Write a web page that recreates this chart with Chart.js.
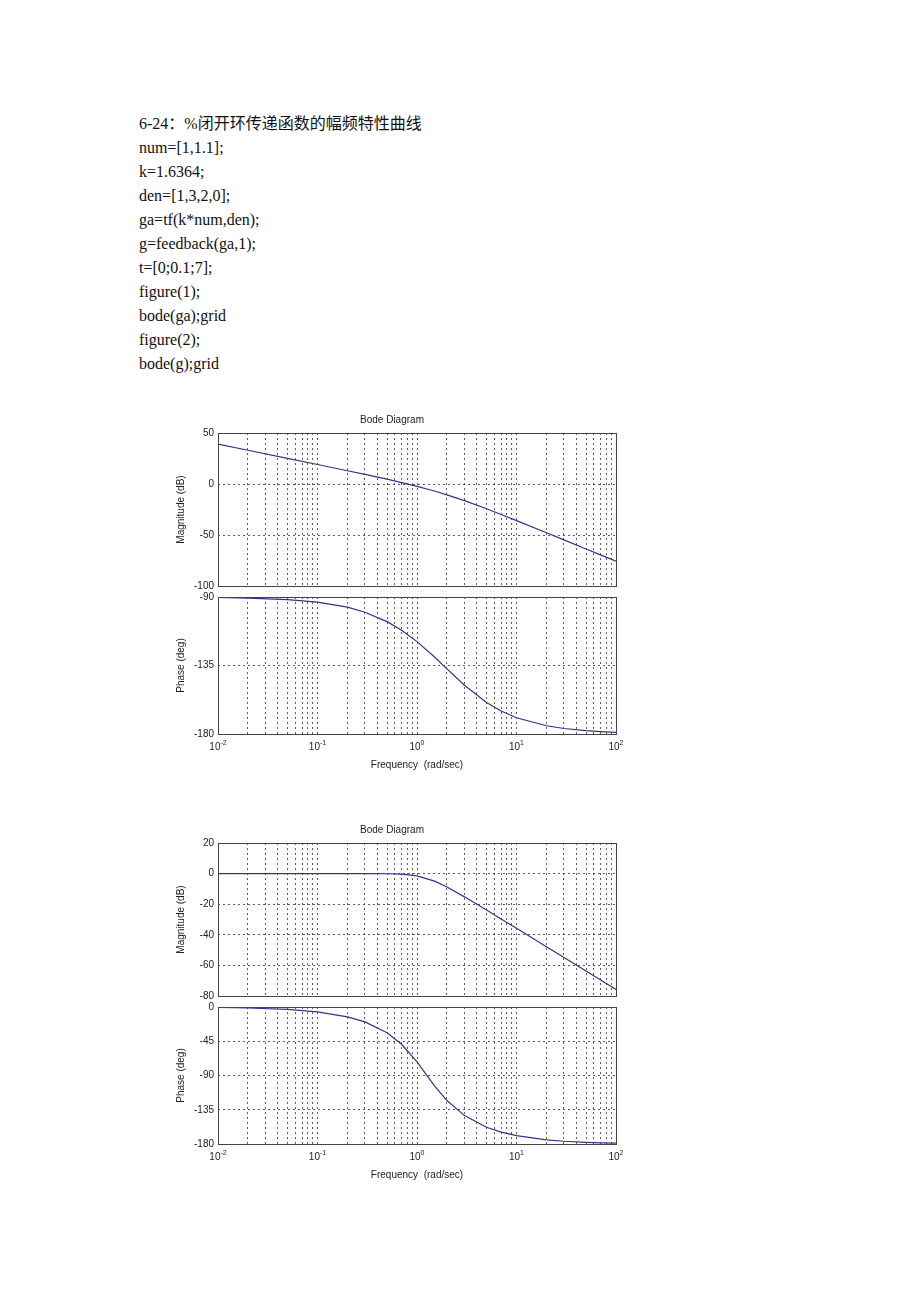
<!DOCTYPE html>
<html lang="zh">
<head>
    <meta charset="UTF-8">
    <title>Bode Diagram</title>
    <script src="https://cdn.jsdelivr.net/npm/chart.js"></script>
    <style>
        body {
            margin: 0;
            background: #fff;
        }
        #page {
            position: relative;
            width: 920px;
            height: 1302px;
            overflow: hidden;
        }
        #code {
            position: absolute;
            left: 139px;
            top: 112px;
            font-family: "Liberation Serif", "Times New Roman", "Noto Sans CJK SC", serif;
            font-size: 16px;
            line-height: 24px;
            color: #111;
            white-space: pre;
        }
        .plot {
            position: absolute;
        }
    </style>
</head>
<body>
<div id="page">
    <div id="code">6-24：%闭开环传递函数的幅频特性曲线
num=[1,1.1];
k=1.6364;
den=[1,3,2,0];
ga=tf(k*num,den);
g=feedback(ga,1);
t=[0;0.1;7];
figure(1);
bode(ga);grid
figure(2);
bode(g);grid</div>

    <div class="plot" style="left:168px; top:410px; width:470px; height:186px;"><canvas id="mag1"></canvas></div>
    <div class="plot" style="left:168px; top:585px; width:470px; height:190px;"><canvas id="phase1"></canvas></div>
    <div class="plot" style="left:168px; top:820px; width:470px; height:186px;"><canvas id="mag2"></canvas></div>
    <div class="plot" style="left:168px; top:995px; width:470px; height:190px;"><canvas id="phase2"></canvas></div>
</div>

<script>
    const freq = [0.01, 0.02, 0.05, 0.1, 0.2, 0.3, 0.5, 0.7, 1, 1.5, 2, 3, 5, 7, 10, 20, 30, 50, 70, 100];

    // figure(1): open loop ga
    const magOpen = [39.1, 33.1, 25.1, 19.1, 13.0, 9.4, 4.7, 1.4, -2.3, -6.9, -10.6, -16.3, -24.3, -29.9, -35.9, -47.8, -54.8, -63.7, -69.5, -75.7];
    const phaseOpen = [-90.3, -90.7, -91.7, -93.4, -96.7, -100.0, -106.2, -111.8, -119.3, -129.4, -137.2, -148.0, -159.3, -164.9, -169.3, -174.6, -176.4, -177.8, -178.4, -178.9];

    // figure(2): closed loop g
    const magClosed = [0, 0, 0, 0, 0, 0, -0.1, -0.4, -1.5, -4.9, -8.8, -15.2, -23.8, -29.6, -35.7, -47.8, -54.8, -63.7, -69.5, -75.7];
    const phaseClosed = [-0.6, -1.3, -3.2, -6.4, -12.9, -19.6, -33.8, -49.0, -72.2, -103.5, -122.9, -142.7, -158.0, -164.4, -169.1, -174.6, -176.4, -177.8, -178.4, -178.9];

    // decade tick labels: base and exponent
    const decades = [0.01, 0.1, 1, 10, 100];
    const exponents = ['-2', '-1', '0', '1', '2'];

    const FONT = "'Liberation Sans', Arial, sans-serif";
    const LINE_COLOR = '#33338a';
    const GRID_COLOR = 'rgba(40,40,40,0.75)';

    // box round the plot area, like matlab axes
    const framePlugin = {
        id: 'frame',
        afterDraw(chart) {
            const a = chart.chartArea;
            const ctx = chart.ctx;
            ctx.save();
            ctx.strokeStyle = '#444';
            ctx.lineWidth = 1;
            ctx.strokeRect(Math.round(a.left) + 0.5, Math.round(a.top) + 0.5,
                Math.round(a.right - a.left), Math.round(a.bottom - a.top));
            ctx.restore();
        }
    };

    // 10^n labels with a raised exponent (canvas ticks can't mix sizes)
    const decadeLabelPlugin = {
        id: 'decadeLabels',
        afterDraw(chart, args, opts) {
            if (!opts.show) return;
            const x = chart.scales.x;
            const ctx = chart.ctx;
            const y = chart.chartArea.bottom + 16;
            ctx.save();
            ctx.fillStyle = '#222';
            ctx.textBaseline = 'alphabetic';
            decades.forEach((d, i) => {
                const px = x.getPixelForValue(d);
                ctx.font = '10px ' + FONT;
                const w1 = ctx.measureText('10').width;
                ctx.font = '7px ' + FONT;
                const w2 = ctx.measureText(exponents[i]).width;
                const start = px - (w1 + w2) / 2;
                ctx.font = '10px ' + FONT;
                ctx.textAlign = 'left';
                ctx.fillText('10', start, y);
                ctx.font = '7px ' + FONT;
                ctx.fillText(exponents[i], start + w1, y - 5);
            });
            ctx.restore();
        }
    };

    function logTicks(scale) {
        const ticks = [];
        for (let e = -2; e < 2; e++) {
            for (let m = 1; m < 10; m++) {
                ticks.push({ value: parseFloat((m * Math.pow(10, e)).toPrecision(6)) });
            }
        }
        ticks.push({ value: 100 });
        scale.ticks = ticks;
    }

    function makePlot(id, values, opts) {
        const points = freq.map((f, i) => ({ x: f, y: values[i] }));
        const ctx = document.getElementById(id).getContext('2d');
        return new Chart(ctx, {
            type: 'line',
            data: {
                datasets: [{
                    data: points,
                    borderColor: LINE_COLOR,
                    borderWidth: 1.2,
                    pointRadius: 0,
                    tension: 0,
                    fill: false
                }]
            },
            plugins: [framePlugin, decadeLabelPlugin],
            options: {
                responsive: true,
                maintainAspectRatio: false,
                animation: false,
                events: [],
                layout: {
                    padding: { top: opts.padTop, right: 22, bottom: 0, left: 0 }
                },
                plugins: {
                    legend: { display: false },
                    tooltip: { enabled: false },
                    decadeLabels: { show: opts.showX },
                    title: {
                        display: !!opts.title,
                        text: opts.title || '',
                        color: '#222',
                        font: { family: FONT, size: 10, weight: 'normal' },
                        padding: { top: 4, bottom: 7 }
                    }
                },
                scales: {
                    x: {
                        type: 'logarithmic',
                        min: 0.01,
                        max: 100,
                        afterBuildTicks: logTicks,
                        afterFit: (s) => { s.height = opts.xHeight; },
                        grid: { color: GRID_COLOR, lineWidth: 1, drawTicks: false },
                        border: { display: false, dash: [2, 3] },
                        ticks: { display: false },
                        title: {
                            display: opts.showX,
                            text: 'Frequency  (rad/sec)',
                            color: '#222',
                            font: { family: FONT, size: 10 },
                            padding: { top: 0, bottom: 4 }
                        }
                    },
                    y: {
                        min: opts.yMin,
                        max: opts.yMax,
                        afterFit: (s) => { s.width = 50; },
                        grid: { color: GRID_COLOR, lineWidth: 1, drawTicks: false },
                        border: { display: false, dash: [2, 3] },
                        ticks: {
                            stepSize: opts.step,
                            padding: 4,
                            color: '#222',
                            font: { family: FONT, size: 10 }
                        },
                        title: {
                            display: true,
                            text: opts.yTitle,
                            color: '#222',
                            font: { family: FONT, size: 10 },
                            padding: { top: 7, bottom: 0 }
                        }
                    }
                }
            }
        });
    }

    makePlot('mag1', magOpen, {
        title: 'Bode Diagram', yTitle: 'Magnitude (dB)',
        yMin: -100, yMax: 50, step: 50, padTop: 0, showX: false, xHeight: 6
    });
    makePlot('phase1', phaseOpen, {
        yTitle: 'Phase (deg)',
        yMin: -180, yMax: -90, step: 45, padTop: 12, showX: true, xHeight: 41
    });
    makePlot('mag2', magClosed, {
        title: 'Bode Diagram', yTitle: 'Magnitude (dB)',
        yMin: -80, yMax: 20, step: 20, padTop: 0, showX: false, xHeight: 6
    });
    makePlot('phase2', phaseClosed, {
        yTitle: 'Phase (deg)',
        yMin: -180, yMax: 0, step: 45, padTop: 12, showX: true, xHeight: 41
    });
</script>
</body>
</html>
